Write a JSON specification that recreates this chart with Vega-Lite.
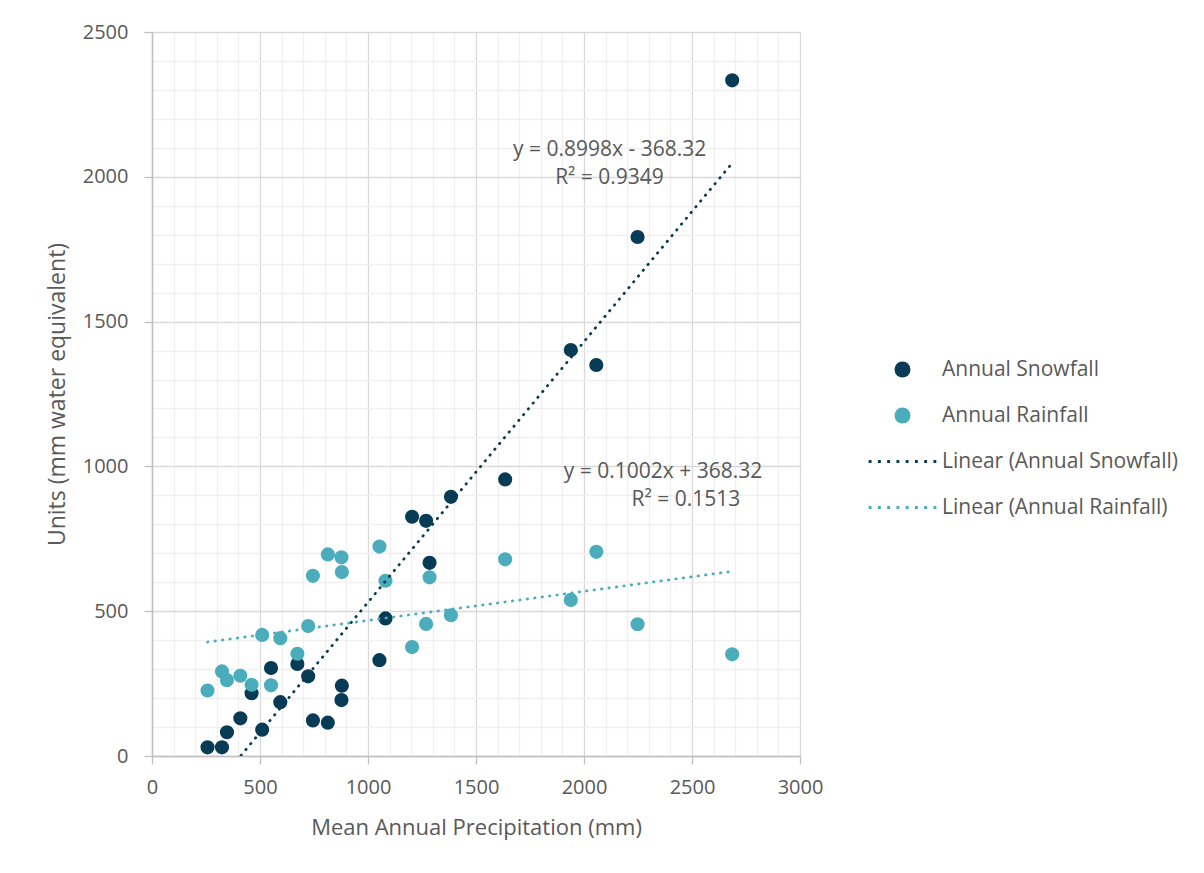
{
  "$schema": "https://vega.github.io/schema/vega-lite/v6.json",
  "width": 648,
  "height": 724,
  "autosize": {"type": "none"},
  "padding": {"left": 152, "top": 32, "right": 404, "bottom": 117},
  "background": "white",
  "config": {"view": {"stroke": null}, "font": "Open Sans"},
  "datasets": {
    "obs": [
      {"p": 257, "v": 30, "s": "Annual Snowfall", "t": "Linear (Annual Snowfall)"},
      {"p": 324, "v": 30, "s": "Annual Snowfall", "t": "Linear (Annual Snowfall)"},
      {"p": 347, "v": 82, "s": "Annual Snowfall", "t": "Linear (Annual Snowfall)"},
      {"p": 409, "v": 130, "s": "Annual Snowfall", "t": "Linear (Annual Snowfall)"},
      {"p": 461, "v": 217, "s": "Annual Snowfall", "t": "Linear (Annual Snowfall)"},
      {"p": 510, "v": 91, "s": "Annual Snowfall", "t": "Linear (Annual Snowfall)"},
      {"p": 551, "v": 304, "s": "Annual Snowfall", "t": "Linear (Annual Snowfall)"},
      {"p": 594, "v": 186, "s": "Annual Snowfall", "t": "Linear (Annual Snowfall)"},
      {"p": 673, "v": 318, "s": "Annual Snowfall", "t": "Linear (Annual Snowfall)"},
      {"p": 723, "v": 275, "s": "Annual Snowfall", "t": "Linear (Annual Snowfall)"},
      {"p": 745, "v": 123, "s": "Annual Snowfall", "t": "Linear (Annual Snowfall)"},
      {"p": 814, "v": 115, "s": "Annual Snowfall", "t": "Linear (Annual Snowfall)"},
      {"p": 879, "v": 243, "s": "Annual Snowfall", "t": "Linear (Annual Snowfall)"},
      {"p": 877, "v": 193, "s": "Annual Snowfall", "t": "Linear (Annual Snowfall)"},
      {"p": 1053, "v": 331, "s": "Annual Snowfall", "t": "Linear (Annual Snowfall)"},
      {"p": 1081, "v": 475, "s": "Annual Snowfall", "t": "Linear (Annual Snowfall)"},
      {"p": 1204, "v": 826, "s": "Annual Snowfall", "t": "Linear (Annual Snowfall)"},
      {"p": 1269, "v": 812, "s": "Annual Snowfall", "t": "Linear (Annual Snowfall)"},
      {"p": 1285, "v": 667, "s": "Annual Snowfall", "t": "Linear (Annual Snowfall)"},
      {"p": 1384, "v": 895, "s": "Annual Snowfall", "t": "Linear (Annual Snowfall)"},
      {"p": 1635, "v": 955, "s": "Annual Snowfall", "t": "Linear (Annual Snowfall)"},
      {"p": 1939, "v": 1402, "s": "Annual Snowfall", "t": "Linear (Annual Snowfall)"},
      {"p": 2057, "v": 1350, "s": "Annual Snowfall", "t": "Linear (Annual Snowfall)"},
      {"p": 2248, "v": 1792, "s": "Annual Snowfall", "t": "Linear (Annual Snowfall)"},
      {"p": 2686, "v": 2333, "s": "Annual Snowfall", "t": "Linear (Annual Snowfall)"},
      {"p": 257, "v": 226, "s": "Annual Rainfall", "t": "Linear (Annual Rainfall)"},
      {"p": 324, "v": 292, "s": "Annual Rainfall", "t": "Linear (Annual Rainfall)"},
      {"p": 347, "v": 262, "s": "Annual Rainfall", "t": "Linear (Annual Rainfall)"},
      {"p": 409, "v": 277, "s": "Annual Rainfall", "t": "Linear (Annual Rainfall)"},
      {"p": 461, "v": 246, "s": "Annual Rainfall", "t": "Linear (Annual Rainfall)"},
      {"p": 510, "v": 418, "s": "Annual Rainfall", "t": "Linear (Annual Rainfall)"},
      {"p": 551, "v": 244, "s": "Annual Rainfall", "t": "Linear (Annual Rainfall)"},
      {"p": 594, "v": 407, "s": "Annual Rainfall", "t": "Linear (Annual Rainfall)"},
      {"p": 673, "v": 353, "s": "Annual Rainfall", "t": "Linear (Annual Rainfall)"},
      {"p": 723, "v": 449, "s": "Annual Rainfall", "t": "Linear (Annual Rainfall)"},
      {"p": 745, "v": 622, "s": "Annual Rainfall", "t": "Linear (Annual Rainfall)"},
      {"p": 814, "v": 696, "s": "Annual Rainfall", "t": "Linear (Annual Rainfall)"},
      {"p": 879, "v": 635, "s": "Annual Rainfall", "t": "Linear (Annual Rainfall)"},
      {"p": 877, "v": 686, "s": "Annual Rainfall", "t": "Linear (Annual Rainfall)"},
      {"p": 1053, "v": 723, "s": "Annual Rainfall", "t": "Linear (Annual Rainfall)"},
      {"p": 1081, "v": 605, "s": "Annual Rainfall", "t": "Linear (Annual Rainfall)"},
      {"p": 1204, "v": 376, "s": "Annual Rainfall", "t": "Linear (Annual Rainfall)"},
      {"p": 1269, "v": 456, "s": "Annual Rainfall", "t": "Linear (Annual Rainfall)"},
      {"p": 1285, "v": 617, "s": "Annual Rainfall", "t": "Linear (Annual Rainfall)"},
      {"p": 1384, "v": 486, "s": "Annual Rainfall", "t": "Linear (Annual Rainfall)"},
      {"p": 1635, "v": 679, "s": "Annual Rainfall", "t": "Linear (Annual Rainfall)"},
      {"p": 1939, "v": 539, "s": "Annual Rainfall", "t": "Linear (Annual Rainfall)"},
      {"p": 2057, "v": 705, "s": "Annual Rainfall", "t": "Linear (Annual Rainfall)"},
      {"p": 2248, "v": 455, "s": "Annual Rainfall", "t": "Linear (Annual Rainfall)"},
      {"p": 2686, "v": 351, "s": "Annual Rainfall", "t": "Linear (Annual Rainfall)"}
    ],
    "notes": [
      {"p": 2119, "v": 2093, "label": "y = 0.8998x - 368.32"},
      {"p": 2118, "v": 1996, "label": "R² = 0.9349"},
      {"p": 2366, "v": 981, "label": "y = 0.1002x + 368.32"},
      {"p": 2472, "v": 884, "label": "R² = 0.1513"}
    ]
  },
  "data": {"name": "obs"},
  "encoding": {
    "x": {
      "field": "p", "type": "quantitative",
      "scale": {"domain": [0, 3000], "nice": false, "zero": false},
      "axis": {
        "title": "Mean Annual Precipitation (mm)",
        "tickCount": 30,
        "format": "d",
        "labelExpr": "datum.value % 500 === 0 ? datum.label : ''",
        "labelOverlap": false, "labelFlush": false,
        "grid": true,
        "gridColor": {"condition": {"test": "datum.value % 500 === 0", "value": "#d9d9d9"}, "value": "#f0f0f0"},
        "gridWidth": 1.3,
        "tickOpacity": {"condition": {"test": "datum.value % 500 === 0", "value": 1}, "value": 0},
        "tickColor": "#bfbfbf", "tickSize": 8, "tickWidth": 1.3,
        "domainColor": "#bfbfbf", "domainWidth": 1.5,
        "labelFont": "Open Sans", "labelFontSize": 20, "labelColor": "#595959", "labelPadding": 13,
        "titleFont": "Open Sans", "titleFontSize": 22, "titleColor": "#595959", "titleFontWeight": "normal",
        "titleY": 71, "titleBaseline": "middle"
      }
    },
    "y": {
      "field": "v", "type": "quantitative",
      "scale": {"domain": [0, 2500], "nice": false, "zero": false},
      "axis": {
        "title": "Units (mm water equivalent)",
        "tickCount": 25,
        "format": "d",
        "labelExpr": "datum.value % 500 === 0 ? datum.label : ''",
        "labelOverlap": false, "labelFlush": false,
        "grid": true,
        "gridColor": {"condition": {"test": "datum.value % 500 === 0", "value": "#d9d9d9"}, "value": "#f0f0f0"},
        "gridWidth": 1.3,
        "tickOpacity": {"condition": {"test": "datum.value % 500 === 0", "value": 1}, "value": 0},
        "tickColor": "#bfbfbf", "tickSize": 8, "tickWidth": 1.3,
        "domainColor": "#bfbfbf", "domainWidth": 1.5,
        "labelFont": "Open Sans", "labelFontSize": 20, "labelColor": "#595959", "labelPadding": 16,
        "titleFont": "Open Sans", "titleFontSize": 23, "titleColor": "#595959", "titleFontWeight": "normal",
        "titleX": -95, "titleBaseline": "middle"
      }
    }
  },
  "layer": [
    {
      "mark": {"type": "point", "filled": true, "opacity": 1, "size": 200, "strokeWidth": 0},
      "encoding": {
        "color": {
          "field": "s", "type": "nominal",
          "scale": {
            "domain": ["Annual Snowfall", "Annual Rainfall", "Linear (Annual Snowfall)", "Linear (Annual Rainfall)"],
            "range": ["#073b56", "#4badbc", "#073b56", "#4badbc"]
          },
          "legend": {
            "title": null, "orient": "none", "legendX": 740, "legendY": 327, "padding": 0,
            "symbolSize": 256, "symbolStrokeWidth": 0, "symbolOpacity": 1,
            "labelFont": "Open Sans", "labelFontSize": 21, "labelColor": "#595959", "labelOffset": 29,
            "labelLimit": 400, "rowPadding": 24
          }
        },
        "shape": {
          "field": "s", "type": "nominal",
          "scale": {
            "domain": ["Annual Snowfall", "Annual Rainfall", "Linear (Annual Snowfall)", "Linear (Annual Rainfall)"],
            "range": ["circle", "circle",
              "M-4.23,-0.18L-3.87,-0.18L-3.87,0.18L-4.23,0.18Z M-3.073,-0.18L-2.713,-0.18L-2.713,0.18L-3.073,0.18Z M-1.916,-0.18L-1.556,-0.18L-1.556,0.18L-1.916,0.18Z M-0.759,-0.18L-0.399,-0.18L-0.399,0.18L-0.759,0.18Z M0.399,-0.18L0.759,-0.18L0.759,0.18L0.399,0.18Z M1.556,-0.18L1.916,-0.18L1.916,0.18L1.556,0.18Z M2.713,-0.18L3.073,-0.18L3.073,0.18L2.713,0.18Z M3.87,-0.18L4.23,-0.18L4.23,0.18L3.87,0.18Z",
              "M-4.23,-0.18L-3.87,-0.18L-3.87,0.18L-4.23,0.18Z M-3.073,-0.18L-2.713,-0.18L-2.713,0.18L-3.073,0.18Z M-1.916,-0.18L-1.556,-0.18L-1.556,0.18L-1.916,0.18Z M-0.759,-0.18L-0.399,-0.18L-0.399,0.18L-0.759,0.18Z M0.399,-0.18L0.759,-0.18L0.759,0.18L0.399,0.18Z M1.556,-0.18L1.916,-0.18L1.916,0.18L1.556,0.18Z M2.713,-0.18L3.073,-0.18L3.073,0.18L2.713,0.18Z M3.87,-0.18L4.23,-0.18L4.23,0.18L3.87,0.18Z"]
          },
          "legend": {
            "title": null, "orient": "none", "legendX": 740, "legendY": 327, "padding": 0,
            "symbolSize": 256, "symbolStrokeWidth": 0, "symbolOpacity": 1,
            "labelFont": "Open Sans", "labelFontSize": 21, "labelColor": "#595959", "labelOffset": 29,
            "labelLimit": 400, "rowPadding": 24
          }
        }
      }
    },
    {
      "transform": [{"regression": "v", "on": "p", "groupby": ["t"]}],
      "mark": {"type": "line", "clip": true, "strokeWidth": 2.75, "strokeDash": [0.5, 7], "strokeCap": "round"},
      "encoding": {
        "color": {
          "field": "t", "type": "nominal",
          "scale": {
            "domain": ["Annual Snowfall", "Annual Rainfall", "Linear (Annual Snowfall)", "Linear (Annual Rainfall)"],
            "range": ["#073b56", "#4badbc", "#073b56", "#4badbc"]
          },
          "legend": null
        }
      }
    },
    {
      "data": {"name": "notes"},
      "mark": {"type": "text", "font": "Open Sans", "fontSize": 21, "color": "#595959", "align": "center", "baseline": "middle"},
      "encoding": {"text": {"field": "label", "type": "nominal"}}
    }
  ]
}
